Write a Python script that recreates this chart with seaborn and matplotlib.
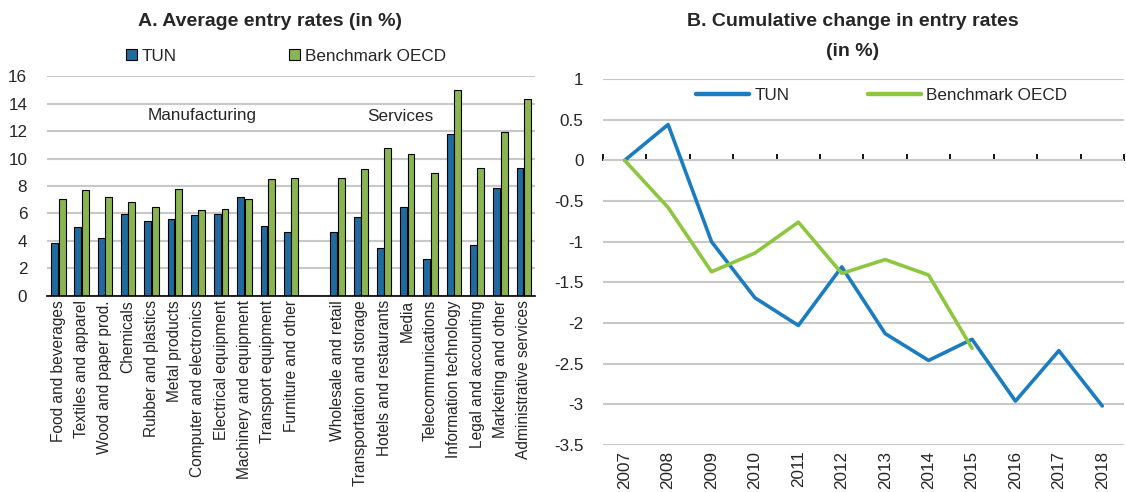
import numpy as np
import pandas as pd
import matplotlib
matplotlib.use("Agg")
import matplotlib.pyplot as plt
import seaborn as sns
from matplotlib.ticker import FixedLocator, MultipleLocator, NullFormatter

# ---------------- data ----------------
manufacturing = ["Food and beverages", "Textiles and apparel", "Wood and paper prod.",
                 "Chemicals", "Rubber and plastics", "Metal products",
                 "Computer and electronics", "Electrical equipment",
                 "Machinery and equipment", "Transport equipment", "Furniture and other"]
services = ["Wholesale and retail", "Transportation and storage", "Hotels and restaurants",
            "Media", "Telecommunications", "Information technology",
            "Legal and accounting", "Marketing and other", "Administrative services"]

tun_manuf = [3.83, 5.00, 4.22, 5.95, 5.46, 5.61, 5.90, 5.95, 7.22, 5.12, 4.66]
oecd_manuf = [7.02, 7.73, 7.20, 6.85, 6.49, 7.78, 6.24, 6.32, 7.05, 8.54, 8.56]
tun_serv = [4.67, 5.76, 3.50, 6.47, 2.70, 11.81, 3.72, 7.85, 9.33]
oecd_serv = [8.58, 9.26, 10.79, 10.31, 8.92, 15.00, 9.29, 11.93, 14.34]

years = [2007, 2008, 2009, 2010, 2011, 2012, 2013, 2014, 2015, 2016, 2017, 2018]
tun_change = [0.0, 0.44, -1.0, -1.69, -2.03, -1.31, -2.13, -2.46, -2.2, -2.96, -2.34, -3.02]
oecd_change = [0.0, -0.58, -1.37, -1.14, -0.76, -1.39, -1.22, -1.41, -2.31]

series_names = ["TUN", "Benchmark OECD"]
BLUE = "#0A6FB5"
GREEN = "#8CC63F"
LBLUE = "#1B7DC0"
LGREEN = "#8DC63F"

# ---------------- style ----------------
sns.set_theme(style="white")
plt.rcParams["font.family"] = ["Liberation Sans", "DejaVu Sans"]
FS = 12.3

fig = plt.figure(figsize=(11.26, 4.92), dpi=100)
ax1 = fig.add_axes([0.0415, 0.3984, 0.4339, 0.4471])
ax2 = fig.add_axes([0.5355, 0.0955, 0.4627, 0.7439])

# ---------------- panel A ----------------
cats = manufacturing + services
order = manufacturing + [" "] + services
df_bar = pd.DataFrame({
    "category": cats * 2,
    "value": tun_manuf + tun_serv + oecd_manuf + oecd_serv,
    "series": [series_names[0]] * len(cats) + [series_names[1]] * len(cats),
})
sns.barplot(data=df_bar, x="category", y="value", hue="series", order=order,
            hue_order=series_names, palette=[BLUE, GREEN], width=0.64, gap=0.08,
            edgecolor="black", linewidth=0.8, errorbar=None, ax=ax1, zorder=3)

ax1.set_ylim(0, 16)
ax1.set_xlim(-0.5, len(order) - 0.5)
ax1.yaxis.set_major_locator(MultipleLocator(2))
ax1.grid(axis="y", color="#C8C8C8", linewidth=1.5, zorder=0)
ax1.set_axisbelow(True)
for s in ["left", "right", "top"]:
    ax1.spines[s].set_visible(False)
ax1.spines["bottom"].set_color("black")
ax1.spines["bottom"].set_linewidth(1.2)
ax1.spines["bottom"].set_zorder(5)
ax1.set_xlabel("")
ax1.set_ylabel("")
ax1.tick_params(axis="x", which="major", length=0, pad=3, labelsize=11.2, rotation=90)
ax1.xaxis.set_minor_locator(FixedLocator(np.arange(-0.5, len(order), 1.0)))
ax1.xaxis.set_minor_formatter(NullFormatter())
ax1.tick_params(axis="x", which="minor", direction="out", length=3.5, width=1.2, color="black")
ax1.tick_params(axis="y", length=0, pad=14, labelsize=FS)
for lab in ax1.get_xticklabels():
    lab.set_verticalalignment("top")

ax1.text(6.2, 13.15, "Manufacturing", ha="center", va="center", fontsize=FS)
ax1.text(14.7, 13.05, "Services", ha="center", va="center", fontsize=FS)

h, l = ax1.get_legend_handles_labels()
ax1.legend(h, l, loc="center", bbox_to_anchor=(0.49, 1.09), ncol=2, frameon=False,
           fontsize=FS, handlelength=0.6, handleheight=0.6, handletextpad=0.3,
           columnspacing=6.6, borderaxespad=0)

fig.text(0.24, 0.957, "A. Average entry rates (in %)", ha="center", va="center",
         fontsize=14, fontweight="bold")

# ---------------- panel B ----------------
df_line = pd.concat([
    pd.DataFrame({"year": years, "value": tun_change, "series": series_names[0]}),
    pd.DataFrame({"year": years[:len(oecd_change)], "value": oecd_change, "series": series_names[1]}),
])
sns.lineplot(data=df_line, x="year", y="value", hue="series", hue_order=series_names,
             palette=[LBLUE, LGREEN], linewidth=2.6, ax=ax2, zorder=4)

ax2.set_ylim(-3.5, 1)
ax2.set_xlim(years[0] - 0.5, years[-1] + 0.5)
ax2.set_yticks(np.arange(-3.5, 1.01, 0.5))
ax2.set_yticklabels(["-3.5", "-3", "-2.5", "-2", "-1.5", "-1", "-0.5", "0", "0.5", "1"])
ax2.grid(axis="y", color="#C8C8C8", linewidth=1.5, zorder=0)
ax2.set_axisbelow(True)
for s in ["left", "right", "top", "bottom"]:
    ax2.spines[s].set_visible(False)
ax2.set_xticks(years)
ax2.set_xticklabels([str(y) for y in years])
ax2.tick_params(axis="x", length=0, pad=4, labelsize=FS, rotation=90)
ax2.tick_params(axis="y", length=0, pad=14, labelsize=FS)
ax2.set_xlabel("")
ax2.set_ylabel("")

# zero axis with tick marks pointing up
axz = ax2.twiny()
axz.set_xlim(ax2.get_xlim())
axz.set_ylim(ax2.get_ylim())
for s in ["left", "right", "bottom"]:
    axz.spines[s].set_visible(False)
axz.spines["top"].set_position(("data", 0))
axz.spines["top"].set_color("black")
axz.spines["top"].set_linewidth(1.3)
axz.set_xticks(np.arange(years[0] - 0.5, years[-1] + 0.6, 1.0))
axz.tick_params(axis="x", direction="out", length=4.5, width=1.3, color="black",
                labeltop=False, top=True, bottom=False)
axz.set_zorder(ax2.get_zorder() - 0.5)
ax2.patch.set_visible(False)

h2, l2 = ax2.get_legend_handles_labels()
for hh in h2:
    hh.set_linewidth(3.2)
ax2.legend(h2, l2, loc="center", bbox_to_anchor=(0.535, 0.955), ncol=2, frameon=False,
           fontsize=FS, handlelength=3.1, handletextpad=0.3, columnspacing=4.6,
           borderaxespad=0)

fig.text(0.757, 0.957, "B. Cumulative change in entry rates", ha="center", va="center",
         fontsize=14, fontweight="bold")
fig.text(0.757, 0.895, "(in %)", ha="center", va="center",
         fontsize=14, fontweight="bold")

fig.savefig("out.png", dpi=100)
